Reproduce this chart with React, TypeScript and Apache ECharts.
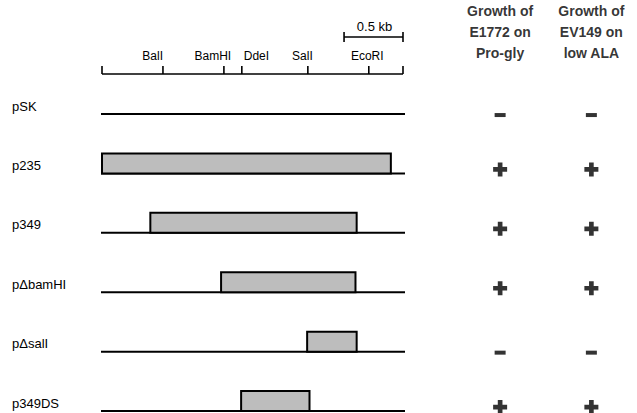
import React, { useEffect, useRef } from 'react';
import * as echarts from 'echarts';

// ---- data (positions along the map in kb) ----
const enzymes = ['BalI', 'BamHI', 'DdeI', 'SalI', 'EcoRI'];
const sitePositions = [0.517, 1.034, 1.186, 1.746, 2.263];
const siteLabelPositions = [0.43, 0.94, 1.31, 1.70, 2.25];
const mapStart = 0;
const mapEnd = 2.553;
const vectorEnd = 2.57;
const scaleBarKb = 0.5;
const scaleBarLabel = '0.5 kb';

const plasmids = ['pSK', 'p235', 'p349', 'p\u0394bamHI', 'p\u0394salI', 'p349DS'];
const insertStart: (number | null)[] = [null, 0, 0.41, 1.01, 1.74, 1.18];
const insertEnd: (number | null)[] = [null, 2.45, 2.16, 2.15, 2.16, 1.76];

const growthColumns = ['E1772', 'EV149'];
const growthHeaders = ['Growth of\nE1772 on\nPro-gly', 'Growth of\nEV149 on\nlow ALA'];
const growthE1772 = ['-', '+', '+', '+', '-', '+'];
const growthEV149 = ['-', '+', '+', '+', '-', '+'];

// ---- layout constants ----
const Y_MIN = -1.92;
const ROW_PX = 59.4;
const Y_MAX = Y_MIN + 413 / ROW_PX;
const MAP_ROW = -0.674;
const HEADER_ROW = -1.381;
const FONT = '"Liberation Sans", Arial, Helvetica, sans-serif';

const PLUS = 'path://M5,0h5v5h5v5h-5v5h-5v-5h-5v-5h5z';

export default function App() {
  const ref = useRef<HTMLDivElement>(null);
  useEffect(() => {
    document.body.style.margin = '0';
    const chart = echarts.init(ref.current!, null, { renderer: 'svg' });

    const rowData = plasmids.map((name, i) => [i, insertStart[i] ?? -1, insertEnd[i] ?? -1, name]);

    const signData: any[] = [];
    [growthE1772, growthEV149].forEach((col, c) => {
      col.forEach((s, r) => {
        signData.push({
          value: [growthColumns[c], r, s],
          symbol: s === '+' ? PLUS : 'rect',
          symbolSize: s === '+' ? [14, 14] : [11, 4],
          symbolOffset: s === '+' ? [0, -4] : [0, 1],
        });
      });
    });

    const option: any = {
      animation: false,
      backgroundColor: '#ffffff',
      grid: [
        { left: 102, top: 0, width: 303, height: 413 },
        { left: 454.5, top: 0, width: 194, height: 413 },
      ],
      xAxis: [
        { type: 'value', gridIndex: 0, min: 0, max: vectorEnd, show: false },
        { type: 'category', gridIndex: 1, data: growthColumns, show: false },
      ],
      yAxis: [
        { type: 'value', gridIndex: 0, min: Y_MIN, max: Y_MAX, inverse: true, show: false },
        { type: 'value', gridIndex: 1, min: Y_MIN, max: Y_MAX, inverse: true, show: false },
      ],
      series: [
        {
          type: 'custom',
          xAxisIndex: 0,
          yAxisIndex: 0,
          data: [[0, MAP_ROW]],
          renderItem: (params: any, api: any) => {
            const y = api.coord([0, MAP_ROW])[1];
            const x0 = api.coord([mapStart, MAP_ROW])[0];
            const x1 = api.coord([mapEnd, MAP_ROW])[0];
            const children: any[] = [];
            const lineStyle = { stroke: '#000', lineWidth: 1.6 };
            children.push({ type: 'line', shape: { x1: x0, y1: y, x2: x1, y2: y }, style: lineStyle });
            [mapStart, ...sitePositions, mapEnd].forEach((p) => {
              const x = api.coord([p, MAP_ROW])[0];
              children.push({ type: 'line', shape: { x1: x, y1: y - 8, x2: x, y2: y }, style: lineStyle });
            });
            enzymes.forEach((e, i) => {
              const x = api.coord([siteLabelPositions[i], MAP_ROW])[0];
              children.push({
                type: 'text',
                style: { text: e, x, y: y - 18, align: 'center', verticalAlign: 'middle', fontFamily: FONT, fontSize: 12, fill: '#000' },
              });
            });
            const sb0 = api.coord([mapEnd - scaleBarKb, MAP_ROW])[0];
            const sby = y - 37;
            children.push({ type: 'line', shape: { x1: sb0, y1: sby, x2: x1, y2: sby }, style: lineStyle });
            children.push({ type: 'line', shape: { x1: sb0, y1: sby - 5, x2: sb0, y2: sby + 5 }, style: lineStyle });
            children.push({ type: 'line', shape: { x1: x1, y1: sby - 5, x2: x1, y2: sby + 5 }, style: lineStyle });
            children.push({
              type: 'text',
              style: { text: scaleBarLabel, x: (sb0 + x1) / 2 + 1, y: sby - 11, align: 'center', verticalAlign: 'middle', fontFamily: FONT, fontSize: 13, fill: '#000' },
            });
            return { type: 'group', children };
          },
        },
        {
          type: 'custom',
          xAxisIndex: 0,
          yAxisIndex: 0,
          data: rowData,
          renderItem: (params: any, api: any) => {
            const i = api.value(0);
            const s = insertStart[i];
            const e = insertEnd[i];
            const y = api.coord([0, i])[1];
            const x0 = api.coord([0, i])[0];
            const x1 = api.coord([vectorEnd, i])[0];
            const children: any[] = [];
            children.push({ type: 'line', shape: { x1: x0 - 1, y1: y, x2: x1, y2: y }, style: { stroke: '#000', lineWidth: 2 } });
            if (s !== null && e !== null) {
              const bx0 = api.coord([s, i])[0];
              const bx1 = api.coord([e, i])[0];
              children.push({
                type: 'rect',
                shape: { x: bx0, y: y - 20, width: bx1 - bx0, height: 20 },
                style: { fill: '#bdbdbd', stroke: '#000', lineWidth: 2 },
              });
            }
            children.push({
              type: 'text',
              style: { text: plasmids[i], x: x0 - 90, y: y - 8, align: 'left', verticalAlign: 'middle', fontFamily: FONT, fontSize: 13, fill: '#000' },
            });
            return { type: 'group', children };
          },
        },
        {
          type: 'scatter',
          xAxisIndex: 1,
          yAxisIndex: 1,
          symbolSize: 0,
          data: growthColumns.map((c, i) => [c, HEADER_ROW, growthHeaders[i]]),
          label: {
            show: true,
            position: 'inside',
            formatter: (p: any) => p.value[2],
            fontFamily: FONT,
            fontWeight: 'bold',
            fontSize: 14,
            lineHeight: 21,
            color: '#000',
            align: 'center',
            verticalAlign: 'middle',
          },
        },
        {
          type: 'scatter',
          xAxisIndex: 1,
          yAxisIndex: 1,
          itemStyle: { color: '#000' },
          data: signData,
        },
      ],
    };
    chart.setOption(option);
    return () => chart.dispose();
  }, []);
  return <div ref={ref} style={{ width: 637, height: 413 }} />;
}
